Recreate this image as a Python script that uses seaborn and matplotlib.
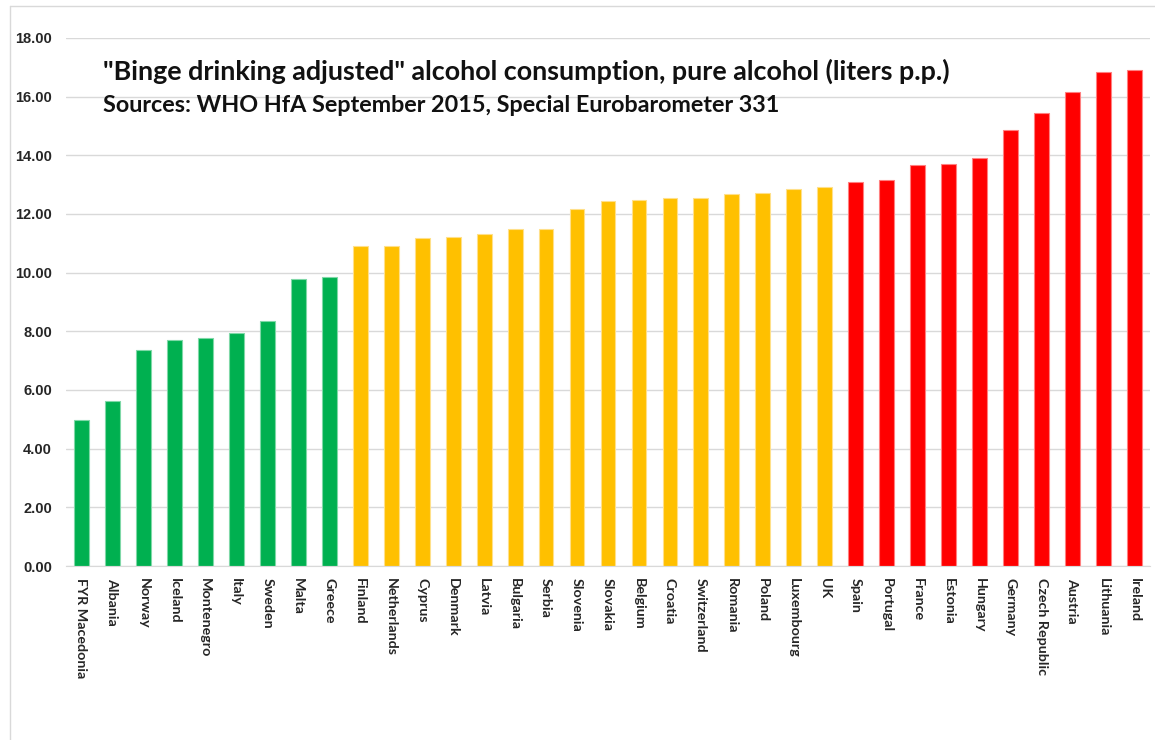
import pandas as pd
import matplotlib.pyplot as plt
import seaborn as sns
from matplotlib.lines import Line2D

# data
countries = ["FYR Macedonia", "Albania", "Norway", "Iceland", "Montenegro", "Italy",
             "Sweden", "Malta", "Greece",
             "Finland", "Netherlands", "Cyprus", "Denmark", "Latvia", "Bulgaria",
             "Serbia", "Slovenia", "Slovakia", "Belgium", "Croatia", "Switzerland",
             "Romania", "Poland", "Luxembourg", "UK",
             "Spain", "Portugal", "France", "Estonia", "Hungary", "Germany",
             "Czech Republic", "Austria", "Lithuania", "Ireland"]
liters = [4.97, 5.61, 7.35, 7.71, 7.78, 7.93, 8.35, 9.77, 9.84,
          10.92, 10.92, 11.18, 11.22, 11.33, 11.48, 11.48, 12.16, 12.44, 12.48,
          12.55, 12.55, 12.67, 12.71, 12.84, 12.92,
          13.09, 13.17, 13.67, 13.71, 13.90, 14.87, 15.46, 16.17, 16.85, 16.92]
groups = ["low"] * 9 + ["mid"] * 16 + ["high"] * 10
yticks = [0, 2, 4, 6, 8, 10, 12, 14, 16, 18]

colors = {"low": "#00B050", "mid": "#FFC000", "high": "#FF0000"}
edges = {"low": "#7fd8a7", "mid": "#ffe08a", "high": "#ff8080"}

df = pd.DataFrame({"country": countries, "liters": liters, "group": groups})

sns.set_style("white")
plt.rcParams['font.family'] = ['Lato', 'DejaVu Sans']

fig = plt.figure(figsize=(11.55, 7.4), dpi=100)
ax = fig.add_axes([66 / 1155, 1 - 566 / 740, (1150 - 66) / 1155, (566 - 38) / 740])

sns.barplot(data=df, x="country", y="liters", hue="group", palette=colors,
            dodge=False, legend=False, width=0.48, saturation=1, linewidth=0, ax=ax)

# light outline round each bar, like the spreadsheet export
for container, g in zip(ax.containers, ["low", "mid", "high"]):
    for bar in container:
        bar.set_edgecolor(edges[g])
        bar.set_linewidth(0.8)

ax.set_xlim(-0.5, len(countries) - 0.5)
ax.set_ylim(0, 18)
ax.set_yticks(yticks)
ax.set_yticklabels([f"{v:.2f}" for v in yticks], fontfamily="Liberation Sans",
                   fontweight="bold", fontsize=10.5)
ax.set_xticks(range(len(countries)))
ax.set_xticklabels(countries, rotation=270, fontweight="bold", fontsize=10.3,
                   va="top", ha="center")
ax.tick_params(axis="both", length=0)
ax.tick_params(axis="y", pad=10)
ax.tick_params(axis="x", pad=9)
ax.set_xlabel("")
ax.set_ylabel("")
ax.yaxis.grid(True, color="#d9d9d9", linewidth=1)
ax.set_axisbelow(True)
for s in ["top", "right", "left"]:
    ax.spines[s].set_visible(False)
ax.spines["bottom"].set_color("#d9d9d9")

fig.text(103 / 1155, 1 - 80 / 740,
         '"Binge drinking adjusted" alcohol consumption, pure alcohol (liters p.p.)',
         fontsize=19.35, fontweight="bold", ha="left", va="baseline", color="#111111")
fig.text(103 / 1155, 1 - 112 / 740,
         "Sources: WHO HfA September 2015, Special Eurobarometer 331",
         fontsize=16.8, fontweight="bold", ha="left", va="baseline", color="#111111")

# outer frame (top and left edge visible in the reference)
fig.add_artist(Line2D([10 / 1155, 1], [1 - 6 / 740, 1 - 6 / 740], color="#d9d9d9", lw=1))
fig.add_artist(Line2D([10 / 1155, 10 / 1155], [0, 1 - 6 / 740], color="#d9d9d9", lw=1))

fig.savefig("out.png", dpi=100)
